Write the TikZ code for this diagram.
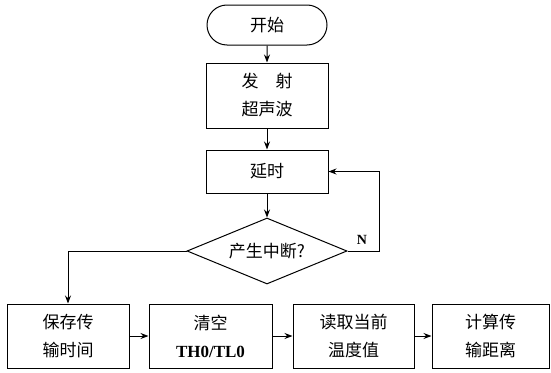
\documentclass[tikz,border=0pt]{standalone}
\usepackage{fontspec}
\setmainfont{Liberation Serif}
\newfontfamily\cjk{Noto Sans CJK SC}
\usetikzlibrary{shapes.geometric,shapes.misc,arrows.meta}
\begin{document}
\begin{tikzpicture}[x=1pt,y=-1pt,
  box/.style={draw,line width=1pt,minimum width=122pt,minimum height=64pt,inner sep=0pt,align=center,font=\cjk\fontsize{17}{28}\selectfont},
  term/.style={draw,line width=1pt,rounded rectangle,minimum width=120pt,minimum height=40pt,inner sep=0pt,font=\cjk\fontsize{17}{28}\selectfont},
  dia/.style={draw,line width=1pt,diamond,aspect=2.42,minimum width=160pt,minimum height=66pt,inner sep=0pt,font=\cjk\fontsize{17}{28}\selectfont},
  arr/.style={line width=1pt,-{Stealth[length=8pt,width=6pt]}},
  lab/.style={font=\fontsize{14}{16}\selectfont\bfseries}]
\useasboundingbox (0,0) rectangle (551,372);
\node[term] (start) at (267,25) {开始};
\node[box,minimum height=65pt] (emit) at (267,95.5) {发\hspace{1em}射\\超声波};
\node[box,minimum height=43pt] (delay) at (267,171.5) {延时};
\node[dia] (dec) at (267,251) {产生中断?};
\node[box] (a) at (68,336) {保存传\\输时间};
\node[box,minimum width=123pt] (b) at (210.5,336) {清空\\{\rmfamily\bfseries TH0/TL0}};
\node[box,minimum width=121pt] (c) at (353.5,336) {读取当前\\温度值};
\node[box,minimum width=117pt] (d) at (490.5,336) {计算传\\输距离};
\coordinate (loop) at (379,251);
\node[lab] (n) at (362,240) {N};
\draw[arr] (start) -- (emit);
\draw[arr] (emit) -- (delay);
\draw[arr] (delay) -- (dec);
\draw[arr] (dec.east) -- (loop) |- (delay.east);
\draw[arr] (dec.west) -| (a.north);
\draw[arr] (a) -- (b);
\draw[arr] (b) -- (c);
\draw[arr] (c) -- (d);
\end{tikzpicture}
\end{document}
